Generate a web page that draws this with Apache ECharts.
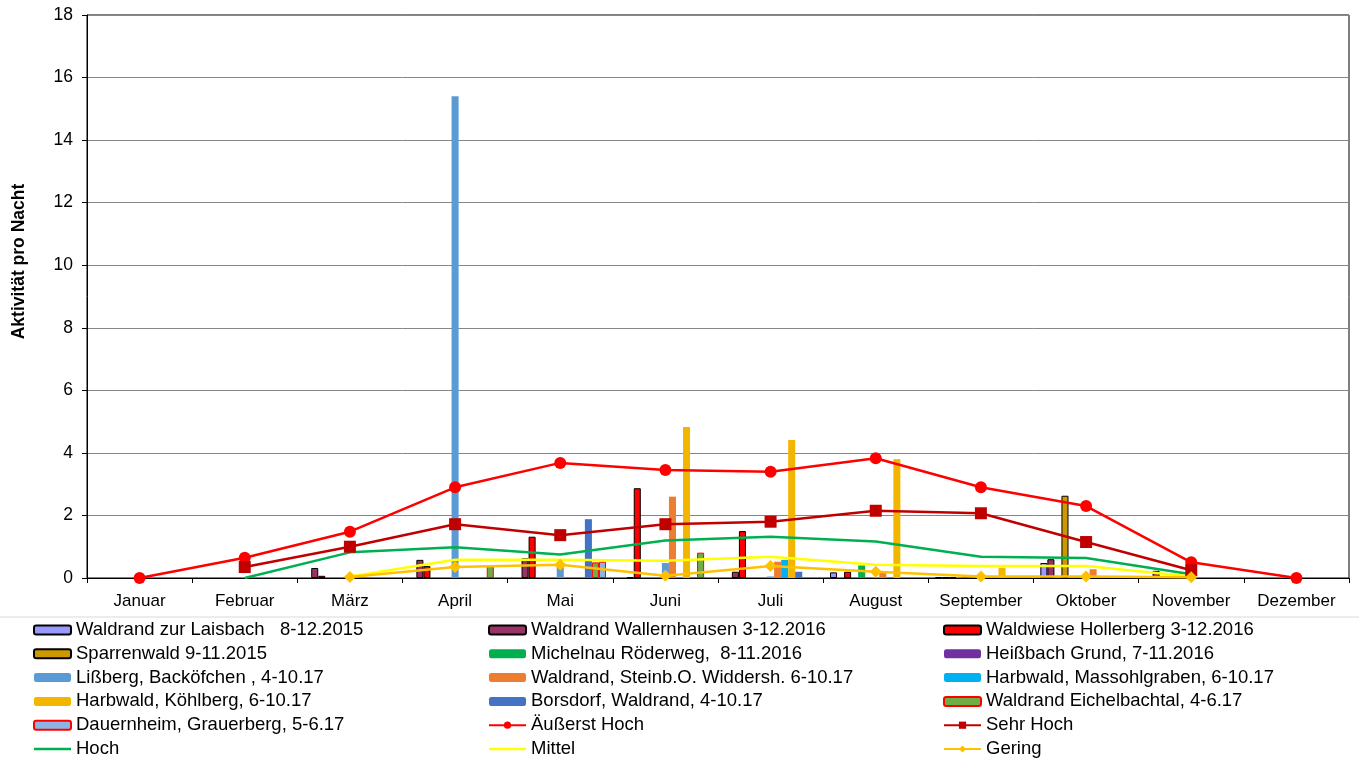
<!DOCTYPE html>
<html>
<head>
<meta charset="utf-8">
<script src="https://cdn.jsdelivr.net/npm/echarts@6/dist/echarts.min.js"></script>
<style>
  html, body { margin: 0; padding: 0; background: #fff; }
  #chart { width: 1359px; height: 760px; }
</style>
</head>
<body>
<div id="chart"></div>
<script>
var months = ['Januar', 'Februar', 'März', 'April', 'Mai', 'Juni', 'Juli', 'August', 'September', 'Oktober', 'November', 'Dezember'];

// Standorte (Balken)
var laisbach      = [null, null, null, null, null, null, null, 0.18, 0.03, 0.48, 0.04, null];
var wallernhausen = [null, null, 0.32, 0.58, 0.63, 0.03, 0.2, null, 0.03, 0.6, 0.23, null];
var hollerberg    = [null, null, 0.07, 0.38, 1.32, 2.87, 1.5, 0.2, 0.02, null, null, null];
var sparrenwald   = [null, null, null, null, null, null, null, null, null, 2.63, null, null];
var michelnau     = [null, null, null, null, null, null, null, 0.4, 0.02, 0.02, null, null];
var heissbach     = [null, null, null, null, null, null, null, null, null, null, null, null];
var lissberg      = [null, null, null, 15.4, 0.38, 0.48, 0.05, 0.03, null, null, null, null];
var steinb        = [null, null, null, null, null, 2.6, 0.52, 0.18, null, 0.28, null, null];
var massohl       = [null, null, null, null, null, null, 0.58, null, null, 0.02, null, null];
var koehlberg     = [null, null, null, null, null, 4.83, 4.41, 3.8, 0.33, null, null, null];
var borsdorf      = [null, null, null, 0.02, 1.88, 0.03, 0.2, null, null, null, null, null];
var eichelbachtal = [null, null, null, 0.38, 0.5, 0.81, null, null, null, null, null, null];
var dauernheim    = [null, null, null, null, 0.52, null, null, null, null, null, null, null];

// Aktivitätsstufen (Linien)
var aeusserstHoch = [0, 0.65, 1.48, 2.9, 3.68, 3.45, 3.4, 3.83, 2.9, 2.3, 0.5, 0];
var sehrHoch      = [null, 0.35, 1.0, 1.72, 1.37, 1.72, 1.8, 2.15, 2.07, 1.15, 0.25, null];
var hoch          = [null, 0, 0.82, 0.98, 0.75, 1.2, 1.32, 1.17, 0.68, 0.64, 0.12, null];
var mittel        = [null, null, 0.05, 0.58, 0.58, 0.55, 0.68, 0.42, 0.38, 0.38, 0.05, null];
var gering        = [null, null, 0.03, 0.35, 0.42, 0.07, 0.38, 0.2, 0.05, 0.05, 0.02, null];

var yTicks = [0, 2, 4, 6, 8, 10, 12, 14, 16, 18];

var font = 'Liberation Sans, Arial, sans-serif';
// plain line icon for the legend (lines without markers)
var lineIcon = 'path://M0,0L0,9M0,3.3L37,3.3L37,5.7L0,5.7Z';

function bar(name, data, color, border) {
  return {
    name: name,
    type: 'bar',
    data: data,
    barGap: '0%',
    barCategoryGap: '13%',
    itemStyle: {
      color: color,
      borderColor: border || color,
      borderWidth: border ? 1 : 0
    }
  };
}

function line(name, data, color, symbol, size) {
  return {
    name: name,
    type: 'line',
    data: data,
    symbol: symbol || 'none',
    symbolSize: size || 0,
    showSymbol: !!symbol,
    z: 5,
    lineStyle: { color: color, width: 2.5 },
    itemStyle: { color: color }
  };
}

var series = [
  bar('Waldrand zur Laisbach   8-12.2015', laisbach, '#9999FF', '#000'),
  bar('Waldrand Wallernhausen 3-12.2016', wallernhausen, '#993366', '#000'),
  bar('Waldwiese Hollerberg 3-12.2016', hollerberg, '#FF0000', '#000'),
  bar('Sparrenwald 9-11.2015', sparrenwald, '#CC9900', '#000'),
  bar('Michelnau Röderweg,  8-11.2016', michelnau, '#00B050'),
  bar('Heißbach Grund, 7-11.2016', heissbach, '#7030A0'),
  bar('Lißberg, Backöfchen , 4-10.17', lissberg, '#5B9BD5'),
  bar('Waldrand, Steinb.O. Widdersh. 6-10.17', steinb, '#ED7D31'),
  bar('Harbwald, Massohlgraben, 6-10.17', massohl, '#00B0F0'),
  bar('Harbwald, Köhlberg, 6-10.17', koehlberg, '#F2B500'),
  bar('Borsdorf, Waldrand, 4-10.17', borsdorf, '#4472C4'),
  bar('Waldrand Eichelbachtal, 4-6.17', eichelbachtal, '#70AD47', '#FF0000'),
  bar('Dauernheim, Grauerberg, 5-6.17', dauernheim, '#8EB4E3', '#FF0000'),
  line('Äußerst Hoch', aeusserstHoch, '#FF0000', 'circle', 12),
  line('Sehr Hoch', sehrHoch, '#C00000', 'rect', 12),
  line('Hoch', hoch, '#00B050'),
  line('Mittel', mittel, '#FFFF00'),
  line('Gering', gering, '#FFC000', 'diamond', 12)
];

function legendItem(s) {
  if (s.type === 'line' && s.symbol === 'none') {
    return { name: s.name, icon: lineIcon };
  }
  return s.name;
}

function legendCol(left, idx) {
  return {
    orient: 'vertical',
    left: left,
    top: 620,
    height: 160,
    padding: 0,
    itemWidth: 37,
    itemHeight: 9,
    itemGap: 3.8,
    textStyle: { fontFamily: font, fontSize: 18.5, color: '#000', lineHeight: 20 },
    data: idx.map(function (i) { return legendItem(series[i]); })
  };
}

var option = {
  animation: false,
  backgroundColor: '#fff',
  textStyle: { fontFamily: font },
  grid: {
    left: 87,
    right: 10,
    top: 15,
    bottom: 182,
    outerBoundsMode: 'none',
    containLabel: false,
    show: true,
    borderColor: '#000',
    borderWidth: 1
  },
  legend: [
    legendCol(33, [0, 3, 6, 9, 12, 15]),
    legendCol(488, [1, 4, 7, 10, 13, 16]),
    legendCol(943, [2, 5, 8, 11, 14, 17])
  ],
  graphic: [{
    type: 'line',
    shape: { x1: 0, y1: 617, x2: 1359, y2: 617 },
    style: { stroke: '#D9D9D9', lineWidth: 1 }
  }],
  xAxis: {
    type: 'category',
    data: months,
    axisLine: { lineStyle: { color: '#000' } },
    axisTick: { show: true, length: 5, lineStyle: { color: '#000' } },
    axisLabel: {
      color: '#000',
      fontSize: 17,
      fontFamily: font,
      margin: 15,
      interval: 0,
      hideOverlap: false
    }
  },
  yAxis: {
    type: 'value',
    min: yTicks[0],
    max: yTicks[yTicks.length - 1],
    interval: 2,
    name: 'Aktivität pro Nacht',
    nameLocation: 'middle',
    nameGap: 59,
    nameTextStyle: {
      color: '#000',
      fontSize: 17.5,
      fontWeight: 'bold',
      fontFamily: font,
      padding: [0, 0, 0, 70]
    },
    axisLine: { show: true, lineStyle: { color: '#000' } },
    axisTick: { show: true, length: 5, lineStyle: { color: '#000' } },
    axisLabel: { color: '#000', fontSize: 17.5, fontFamily: font, margin: 14 },
    splitLine: { lineStyle: { color: '#868686' } }
  },
  series: series
};

var myChart = echarts.init(document.getElementById('chart'));
myChart.setOption(option);
window.addEventListener('resize', function () {
  myChart.resize();
});
</script>
</body>
</html>
